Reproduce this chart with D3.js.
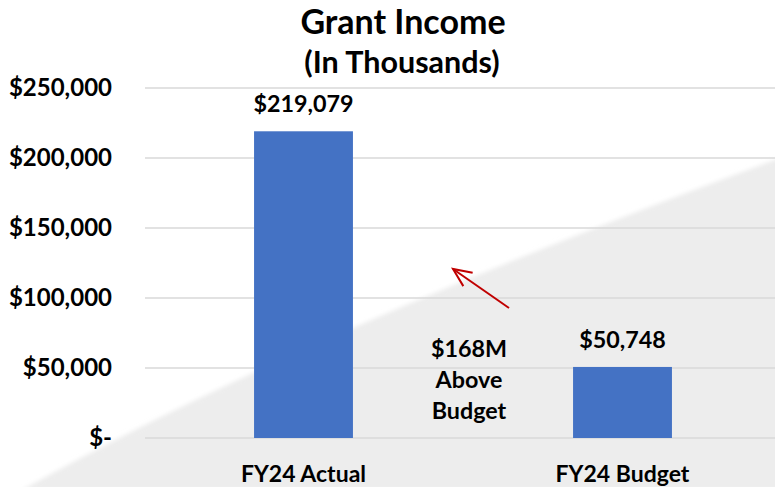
<!DOCTYPE html>
<html>
<head>
<meta charset="utf-8">
<script src="https://cdn.jsdelivr.net/npm/d3@7"></script>
<style>
  body { margin: 0; background: #fff; }
  text { font-family: Lato, "Open Sans", sans-serif; font-weight: bold; fill: #000; }
</style>
</head>
<body>
<script>
const categories = ["FY24 Actual", "FY24 Budget"];
const values = [219079, 50748];
const valueLabels = ["$219,079", "$50,748"];
const yTicks = [0, 50000, 100000, 150000, 200000, 250000];
const yTickLabels = ["$-", "$50,000", "$100,000", "$150,000", "$200,000", "$250,000"];
const noteLines = ["$168M", "Above", "Budget"];

const width = 775;
const height = 487;

const svg = d3.select("body")
    .append("svg")
    .attr("width", width)
    .attr("height", height);

// soft grey backdrop shape in the lower right
const defs = svg.append("defs");
defs.append("filter")
    .attr("id", "soft")
    .append("feGaussianBlur")
    .attr("stdDeviation", 2);

svg.append("path")
    .attr("d", "M22,490 Q300,334 780,158 L780,490 Z")
    .attr("fill", "#ededed")
    .attr("filter", "url(#soft)");

const x = d3.scaleBand()
    .domain(categories)
    .range([144, 782])
    .paddingInner(0.69)
    .paddingOuter(0.345);

const y = d3.scaleLinear()
    .domain([0, 250000])
    .range([438, 88]);

// gridlines
svg.selectAll(".grid")
    .data(yTicks)
    .join("line")
    .attr("class", "grid")
    .attr("x1", 145)
    .attr("x2", width)
    .attr("y1", (d) => y(d))
    .attr("y2", (d) => y(d))
    .attr("stroke", "#d9d9d9")
    .attr("stroke-width", 1.5);

// y axis labels
svg.selectAll(".ylab")
    .data(yTicks)
    .join("text")
    .attr("class", "ylab")
    .attr("x", 112)
    .attr("y", (d) => y(d) + 8)
    .attr("text-anchor", "end")
    .attr("font-size", "24px")
    .text((d, i) => yTickLabels[i]);

// bars
svg.selectAll(".bar")
    .data(values)
    .join("rect")
    .attr("class", "bar")
    .attr("x", (d, i) => x(categories[i]))
    .attr("y", (d) => y(d))
    .attr("width", x.bandwidth())
    .attr("height", (d) => y(0) - y(d))
    .attr("fill", "#4472c4");

// value labels
svg.selectAll(".vlab")
    .data(values)
    .join("text")
    .attr("class", "vlab")
    .attr("x", (d, i) => x(categories[i]) + x.bandwidth() / 2)
    .attr("y", (d) => y(d) - 19)
    .attr("text-anchor", "middle")
    .attr("font-size", "23.3px")
    .text((d, i) => valueLabels[i]);

// category labels
svg.selectAll(".xlab")
    .data(categories)
    .join("text")
    .attr("class", "xlab")
    .attr("x", (d) => x(d) + x.bandwidth() / 2)
    .attr("y", 482)
    .attr("text-anchor", "middle")
    .attr("font-size", "23px")
    .text((d) => d);

// title
svg.append("text")
    .attr("x", 403)
    .attr("y", 34)
    .attr("text-anchor", "middle")
    .attr("font-size", "34px")
    .text("Grant Income");

svg.append("text")
    .attr("x", 402)
    .attr("y", 73)
    .attr("text-anchor", "middle")
    .attr("font-size", "30.5px")
    .text("(In Thousands)");

// annotation
svg.selectAll(".note")
    .data(noteLines)
    .join("text")
    .attr("class", "note")
    .attr("x", 469)
    .attr("y", (d, i) => 357 + i * 31)
    .attr("text-anchor", "middle")
    .attr("font-size", "23.3px")
    .text((d) => d);

// red arrow pointing up-left
const tip = [453, 269];
const tail = [509, 308];
const ang = Math.atan2(tail[1] - tip[1], tail[0] - tip[0]);
const headLen = 20;
const spread = 0.42;
const arrow = svg.append("g")
    .attr("stroke", "#c00000")
    .attr("stroke-width", 2)
    .attr("fill", "none");
arrow.append("line")
    .attr("x1", tail[0]).attr("y1", tail[1])
    .attr("x2", tip[0]).attr("y2", tip[1]);
arrow.append("path")
    .attr("d", d3.line()([
        [tip[0] + headLen * Math.cos(ang - spread), tip[1] + headLen * Math.sin(ang - spread)],
        tip,
        [tip[0] + headLen * Math.cos(ang + spread), tip[1] + headLen * Math.sin(ang + spread)]
    ]));
</script>
</body>
</html>
